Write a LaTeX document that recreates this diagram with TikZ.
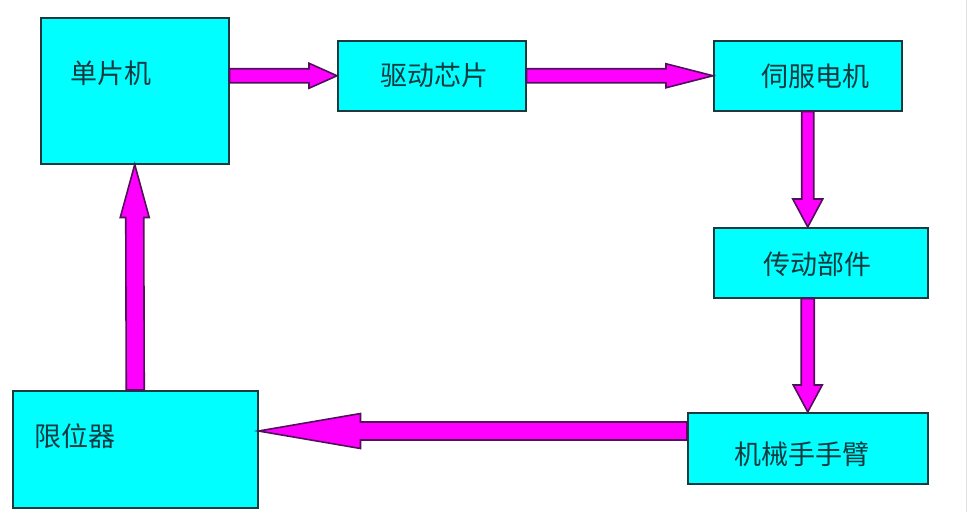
\documentclass[tikz,border=0pt]{standalone}
\usepackage{fontspec}
\newfontfamily\cjk{Noto Sans CJK SC}
\usetikzlibrary{calc}
\definecolor{boxfill}{HTML}{00FFFF}
\definecolor{boxline}{HTML}{1A3A40}
\definecolor{arrfill}{HTML}{FF00FF}
\definecolor{arrline}{HTML}{50105A}
\definecolor{txtcol}{HTML}{123A40}
\tikzset{
  box/.style={draw=boxline, fill=boxfill, line width=1.5pt, inner sep=0pt, anchor=north west},
  lbl/.style={inner sep=0pt, text=txtcol, font=\cjk\fontsize{27}{30}\selectfont},
  fatarrowstyle/.style={fill=arrfill, draw=arrline, line width=1.6pt, line join=miter},
}
% #1 tail, #2 tip, #3 dx, #4 dy, #5 shaft half width, #6 head length, #7 head half width
\newcommand{\fatarrow}[7]{%
\filldraw[fatarrowstyle]
 ($(#1)+({-(#5)*(#4)},{(#5)*(#3)})$) --
 ($(#2)+({-(#6)*(#3)-(#5)*(#4)},{-(#6)*(#4)+(#5)*(#3)})$) --
 ($(#2)+({-(#6)*(#3)-(#7)*(#4)},{-(#6)*(#4)+(#7)*(#3)})$) --
 (#2) --
 ($(#2)+({-(#6)*(#3)+(#7)*(#4)},{-(#6)*(#4)-(#7)*(#3)})$) --
 ($(#2)+({-(#6)*(#3)+(#5)*(#4)},{-(#6)*(#4)-(#5)*(#3)})$) --
 ($(#1)+({(#5)*(#4)},{-(#5)*(#3)})$) -- cycle;}
\begin{document}
\begin{tikzpicture}[x=1pt,y=-1pt]
\useasboundingbox (0,0) rectangle (972,512);
\fill[white] (0,0) rectangle (972,512);
\draw[black!12, line width=1pt] (966,0) -- (966,512);
% boxes
\node[box, minimum width=188pt, minimum height=146pt] (mcu) at (40,17) {};
\node[box, minimum width=188pt, minimum height=70pt] (drv) at (337,40) {};
\node[box, minimum width=188pt, minimum height=70pt] (srv) at (713,40) {};
\node[box, minimum width=214pt, minimum height=70pt] (trans) at (713,227) {};
\node[box, minimum width=240pt, minimum height=71pt] (mech) at (687,412) {};
\node[box, minimum width=245pt, minimum height=117pt] (lim) at (12,390) {};
% labels
\node[lbl] (mcut) at (111,73) {单片机};
\node[lbl] (drvt) at (434,75) {驱动芯片};
\node[lbl] (srvt) at (815,76) {伺服电机};
\node[lbl] (transt) at (817,264) {传动部件};
\node[lbl] (mecht) at (802,454) {机械手手臂};
\node[lbl] (limt) at (75,436) {限位器};
% connector points
\coordinate (a1) at (mcu.east |- drv.west);
\coordinate (a3t) at (srv.south |- trans.north);
\coordinate (a4) at (mech.north |- trans.south);
\coordinate (a5) at ($(mech.north west)+(0,19)$);
\coordinate (a5t) at (lim.east |- a5);
% arrows
\fatarrow{a1}{drv.west}{1}{0}{7}{28}{12.5}
\fatarrow{drv.east}{srv.west}{1}{0}{7}{47}{12}
\fatarrow{srv.south}{a3t}{0}{1}{6}{28}{15}
\fatarrow{a4}{mech.north}{0}{1}{6.5}{27}{14.5}
\fatarrow{a5}{a5t}{-1}{0}{9}{102}{17.5}
\fatarrow{lim.north}{mcu.south}{0}{-1}{9}{53}{14.5}
\end{tikzpicture}
\end{document}
